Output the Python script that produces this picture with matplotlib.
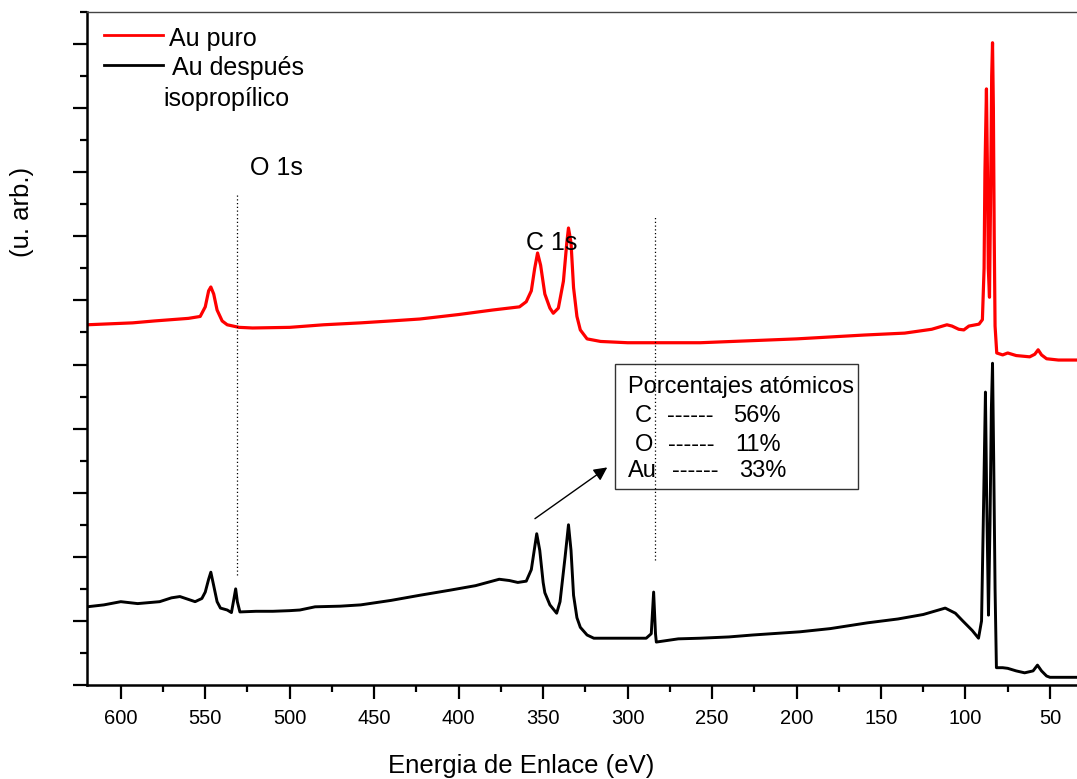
import numpy as np
import matplotlib.pyplot as plt
from matplotlib.patches import Rectangle
from matplotlib.ticker import MultipleLocator, NullFormatter

plt.rcParams['font.family'] = ['Liberation Sans', 'DejaVu Sans']

# Au puro (energia eV, intensidad u. arb.)
au_puro_x = [620, 593, 580, 560, 553, 550, 548, 546.7, 545, 543, 540, 537, 530, 522,
             500, 480, 458, 440, 423, 400, 380, 364, 360, 357, 355, 353.3, 351.5, 349,
             346, 344, 341, 338, 336, 335, 333.5, 332, 330, 328, 324, 316, 300, 280,
             257, 200, 160, 136, 120, 111, 108, 104, 101, 98, 92, 90, 89, 88.5, 87.6,
             87, 86.5, 85.8, 85.2, 84.5, 84.0, 83.5, 83, 82.5, 81.5, 78, 75, 70, 62,
             59, 57, 55, 52, 45, 34]
au_puro_y = [5.62, 5.65, 5.68, 5.72, 5.75, 5.90, 6.15, 6.21, 6.10, 5.85, 5.68, 5.62, 5.58, 5.57,
             5.58, 5.62, 5.65, 5.68, 5.71, 5.78, 5.85, 5.90, 5.98, 6.15, 6.50, 6.74, 6.55, 6.10,
             5.88, 5.80, 5.88, 6.30, 6.90, 7.13, 6.90, 6.20, 5.75, 5.54, 5.40, 5.36, 5.34, 5.34,
             5.34, 5.40, 5.46, 5.49, 5.55, 5.62, 5.60, 5.55, 5.54, 5.60, 5.63, 5.70, 6.50, 8.00, 9.30,
             8.00, 6.50, 6.05, 7.50, 9.50, 10.02, 9.00, 7.00, 5.60, 5.18, 5.15, 5.18, 5.14, 5.12,
             5.16, 5.23, 5.15, 5.09, 5.07, 5.07]

# Au despues isopropilico
au_iso_x = [620, 610, 600, 590, 577, 570, 565, 556, 552, 550, 548, 546.7, 545, 543, 541,
            537, 534.5, 533, 532, 531, 529.5, 520, 510, 500, 494, 485, 470, 458, 440,
            423, 405, 390, 376, 370, 365, 360, 357, 355, 353.8, 352, 350, 349, 346, 342,
            340, 337, 335, 333.5, 332, 330, 328, 324, 320, 300, 289, 286, 284.6, 283.5,
            283, 270, 257, 240, 226, 198, 180, 158, 140, 125, 112, 106, 102, 96, 92.3,
            90.5, 89.5, 88.2, 87.5, 86.4, 85.5, 84.7, 84.0, 83.3, 82.5, 81.7, 78, 75,
            70, 65, 60, 57.4, 55, 52, 50, 40, 34]
au_iso_y = [1.22, 1.25, 1.30, 1.27, 1.30, 1.36, 1.38, 1.30, 1.35, 1.45, 1.65, 1.76, 1.55, 1.30, 1.20,
            1.17, 1.13, 1.35, 1.50, 1.30, 1.14, 1.15, 1.15, 1.16, 1.17, 1.22, 1.23, 1.25, 1.32,
            1.40, 1.48, 1.55, 1.65, 1.63, 1.60, 1.62, 1.80, 2.15, 2.36, 2.10, 1.60, 1.44, 1.25, 1.12,
            1.30, 2.00, 2.50, 2.10, 1.40, 1.05, 0.90, 0.78, 0.73, 0.73, 0.73, 0.80, 1.45, 0.80,
            0.67, 0.72, 0.73, 0.75, 0.78, 0.83, 0.88, 0.97, 1.03, 1.10, 1.20, 1.12, 1.01, 0.85, 0.73,
            1.00, 2.50, 4.57, 3.00, 1.09, 2.50, 4.30, 5.02, 3.50, 1.50, 0.27, 0.27, 0.26,
            0.22, 0.19, 0.22, 0.31, 0.22, 0.14, 0.12, 0.12, 0.12]

# lineas de referencia (eV, y inicio, y fin)
ref_lines_x = [531.4, 284.0]
ref_lines_y0 = [1.72, 1.95]
ref_lines_y1 = [7.64, 7.30]

tabla_elem = ['C', 'O', 'Au']
tabla_pct = ['56%', '11%', '33%']

fig = plt.figure(figsize=(10.77, 7.79), dpi=100)
ax = fig.add_axes([87 / 1077, 1 - 685 / 779, 990 / 1077, 673 / 779])

ax.plot(au_puro_x, au_puro_y, color='#ff0000', lw=2.3)
ax.plot(au_iso_x, au_iso_y, color='black', lw=2.1)

for x, y0, y1 in zip(ref_lines_x, ref_lines_y0, ref_lines_y1):
    ax.plot([x, x], [y0, y1], color='black', lw=0.9, ls=(0, (1, 2)))

ax.set_xlim(620, 34)
ax.set_ylim(0, 10.5)

ax.xaxis.set_major_locator(MultipleLocator(50))
ax.xaxis.set_minor_locator(MultipleLocator(25))
ax.yaxis.set_major_locator(MultipleLocator(1))
ax.yaxis.set_minor_locator(MultipleLocator(0.5))
ax.yaxis.set_major_formatter(NullFormatter())
ax.tick_params(which='major', direction='out', length=10, width=1.6, labelsize=14.5, pad=7)
ax.tick_params(which='minor', direction='out', length=5, width=1.6)

for s in ['left', 'bottom']:
    ax.spines[s].set_linewidth(1.8)
ax.spines['top'].set_linewidth(1.0)
ax.spines['top'].set_color('#444444')
ax.spines['right'].set_visible(False)

tr = ax.transAxes
def ax_xy(px, py):
    return ((px - 87) / 990, (685 - py) / 673)

def texto(px, py, s, size):
    a = ax_xy(px, py)
    ax.text(a[0], a[1], s, fontsize=size, ha='left', va='baseline', transform=tr)

texto(250, 175, 'O 1s', 18)
texto(526, 250, 'C 1s', 18)

# leyenda manual
for (px0, px1, py, col) in [(104, 163, 35, '#ff0000'), (104, 163, 65, 'black')]:
    a0 = ax_xy(px0, py)
    a1 = ax_xy(px1, py)
    ax.plot([a0[0], a1[0]], [a0[1], a1[1]], color=col, lw=2, transform=tr)
texto(169, 46, 'Au puro', 18)
texto(172, 75, 'Au después', 18)
texto(163, 106, 'isopropílico', 18)

# cuadro de porcentajes
b0 = ax_xy(615, 489)
b1 = ax_xy(858, 364)
ax.add_patch(Rectangle(b0, b1[0] - b0[0], b1[1] - b0[1], transform=tr,
                       fill=False, edgecolor='#333333', lw=1.0))
texto(628, 393, 'Porcentajes atómicos', 17)
elem_px = [635, 635, 628]
dash_px = [667, 668, 672]
pct_px = [733, 735, 739]
row_py = [422, 451, 477]
for e, p, ex, dx, qx, ry in zip(tabla_elem, tabla_pct, elem_px, dash_px, pct_px, row_py):
    texto(ex, ry, e, 17)
    texto(dx, ry, '------', 17)
    texto(qx, ry, p, 17)

ax.annotate('', xy=(310.7, 3.42), xytext=(356.2, 2.57),
            arrowprops=dict(arrowstyle='-|>', color='black', lw=1.0, mutation_scale=20))

fig.text(388 / 1077, 1 - 773 / 779, 'Energia de Enlace (eV)', fontsize=18.5, ha='left', va='baseline')
fig.text(22 / 1077, 1 - 212 / 779, '(u. arb.)', fontsize=18.5, ha='center', va='center', rotation=90)

fig.savefig('out.png', dpi=100)
